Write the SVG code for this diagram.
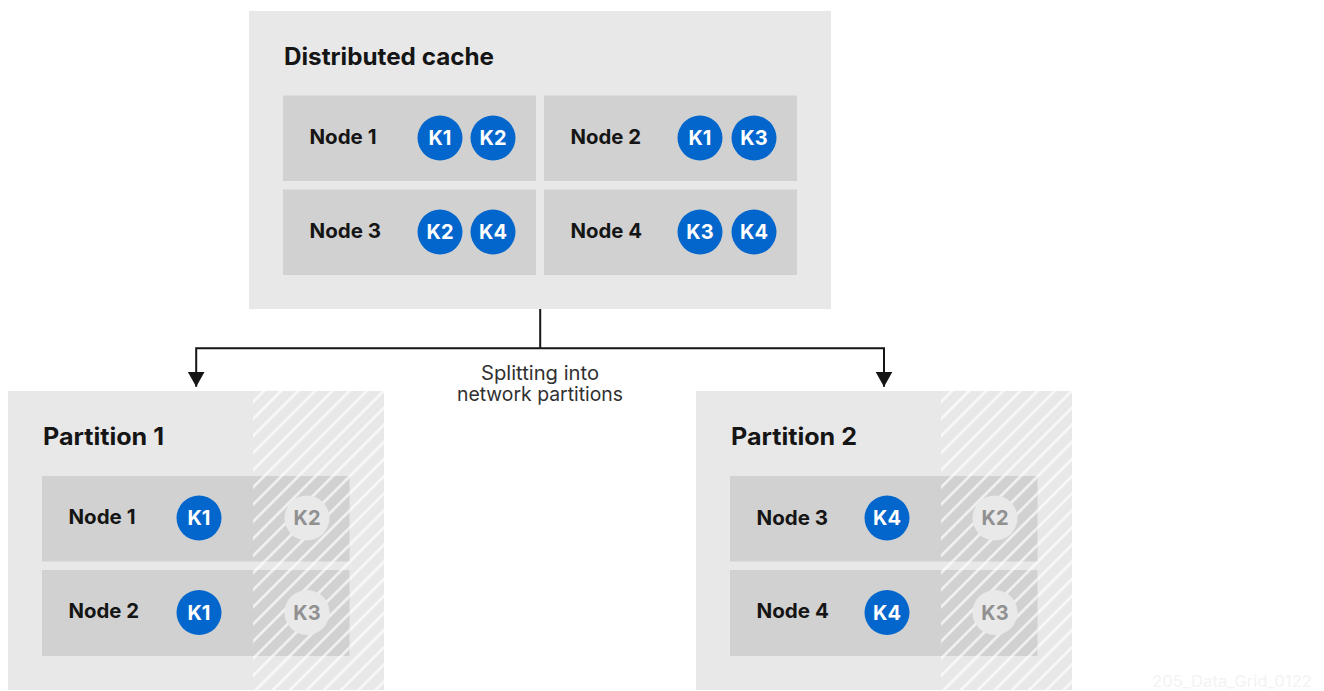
<svg xmlns="http://www.w3.org/2000/svg" width="1324" height="691" viewBox="0 0 1324 691">
<style>
.panel{fill:#e8e8e8}
.cell{fill:#d1d1d1}
.k{fill:#0266cc}
.g{fill:#e9e9e9}
text{font-family:"Inter","Liberation Sans",sans-serif}
.h{font-size:24px;font-weight:700;fill:#151515}
.n{font-size:20px;font-weight:700;fill:#151515}
.kt{font-size:20px;font-weight:700;fill:#fff;text-anchor:middle}
.gt{font-size:20px;font-weight:700;fill:#919191;text-anchor:middle}
.lab{font-size:19.5px;fill:#303030;text-anchor:middle}
.wm{font-size:16px;fill:#f3f3f3}
.line{fill:none;stroke:#151515;stroke-width:2}
.hatch1{fill:url(#hatch1)}
.hatch2{fill:url(#hatch2)}
</style>
<defs>
<pattern id="hatch1" patternUnits="userSpaceOnUse" width="12.1" height="12.1" patternTransform="translate(253 400) rotate(-45)">
<rect x="0" y="0" width="12.1" height="2.6" fill="#fff" fill-opacity=".7"/>
</pattern>
<pattern id="hatch2" patternUnits="userSpaceOnUse" width="12.1" height="12.1" patternTransform="translate(941 400) rotate(-45)">
<rect x="0" y="0" width="12.1" height="2.6" fill="#fff" fill-opacity=".7"/>
</pattern>
<marker id="arrow" markerUnits="userSpaceOnUse" markerWidth="16" markerHeight="18" refX="15" refY="8.500" orient="auto">
<path d="M0 0L15 8.500L0 17Z" fill="#151515"/>
</marker>
</defs>
<g id="distributed-cache">
<rect class="panel" x="249" y="11" width="582" height="298"/>
<text class="h" x="284" y="65" textLength="210" lengthAdjust="spacingAndGlyphs">Distributed cache</text>
</g>
<g id="dc-node-1"><rect class="cell" x="283" y="95.500" width="253" height="85.500"/><text class="n" x="309.500" y="144" textLength="67" lengthAdjust="spacingAndGlyphs">Node 1</text><circle class="k" cx="440" cy="138" r="22.500"/><text class="kt" x="440" y="145">K1</text><circle class="k" cx="493" cy="138" r="22.500"/><text class="kt" x="493" y="145">K2</text></g>
<g id="dc-node-2"><rect class="cell" x="544" y="95.500" width="253" height="85.500"/><text class="n" x="570.500" y="144" textLength="70.500" lengthAdjust="spacingAndGlyphs">Node 2</text><circle class="k" cx="700" cy="138" r="22.500"/><text class="kt" x="700" y="145">K1</text><circle class="k" cx="754" cy="138" r="22.500"/><text class="kt" x="754" y="145">K3</text></g>
<g id="dc-node-3"><rect class="cell" x="283" y="189.500" width="253" height="85.500"/><text class="n" x="309.500" y="238" textLength="71.500" lengthAdjust="spacingAndGlyphs">Node 3</text><circle class="k" cx="440" cy="232" r="22.500"/><text class="kt" x="440" y="239">K2</text><circle class="k" cx="493" cy="232" r="22.500"/><text class="kt" x="493" y="239">K4</text></g>
<g id="dc-node-4"><rect class="cell" x="544" y="189.500" width="253" height="85.500"/><text class="n" x="570.500" y="238" textLength="71.500" lengthAdjust="spacingAndGlyphs">Node 4</text><circle class="k" cx="700" cy="232" r="22.500"/><text class="kt" x="700" y="239">K3</text><circle class="k" cx="754" cy="232" r="22.500"/><text class="kt" x="754" y="239">K4</text></g>
<g id="connectors">
<path class="line" d="M540.200 309V348.300"/>
<path class="line" d="M540.200 348.300H196.200V386.700" marker-end="url(#arrow)"/>
<path class="line" d="M540.200 348.300H884V386.700" marker-end="url(#arrow)"/>
</g>
<g id="split-label"><text class="lab" x="540" y="380" textLength="118" lengthAdjust="spacingAndGlyphs">Splitting into</text><text class="lab" x="540" y="401" textLength="166" lengthAdjust="spacingAndGlyphs">network partitions</text></g>
<g id="partition-1">
<rect class="panel" x="8" y="391" width="376" height="299"/>
<rect class="hatch1" x="253" y="391" width="131" height="299"/>
<text class="h" x="43" y="445" textLength="121" lengthAdjust="spacingAndGlyphs">Partition 1</text>
</g>
<g id="p1-node-1"><rect class="cell" x="42" y="476" width="307.500" height="85.500"/><rect class="hatch1" x="253" y="476" width="96.500" height="85.500"/><text class="n" x="68.500" y="524" textLength="67" lengthAdjust="spacingAndGlyphs">Node 1</text><circle class="k" cx="199" cy="518" r="22.500"/><text class="kt" x="199" y="525">K1</text><circle class="g" cx="307" cy="518" r="22.500"/><text class="gt" x="307" y="525">K2</text></g>
<g id="p1-node-2"><rect class="cell" x="42" y="570" width="307.500" height="86"/><rect class="hatch1" x="253" y="570" width="96.500" height="86"/><text class="n" x="68.500" y="618" textLength="70.500" lengthAdjust="spacingAndGlyphs">Node 2</text><circle class="k" cx="199" cy="612.500" r="22.500"/><text class="kt" x="199" y="619.500">K1</text><circle class="g" cx="307" cy="612.500" r="22.500"/><text class="gt" x="307" y="619.500">K3</text></g>
<g id="partition-2">
<rect class="panel" x="696" y="391" width="376" height="299"/>
<rect class="hatch2" x="941" y="391" width="131" height="299"/>
<text class="h" x="731" y="445" textLength="126" lengthAdjust="spacingAndGlyphs">Partition 2</text>
</g>
<g id="p2-node-3"><rect class="cell" x="730" y="476" width="307.500" height="85.500"/><rect class="hatch2" x="941" y="476" width="96.500" height="85.500"/><text class="n" x="756.500" y="525" textLength="71.500" lengthAdjust="spacingAndGlyphs">Node 3</text><circle class="k" cx="887" cy="518" r="22.500"/><text class="kt" x="887" y="525">K4</text><circle class="g" cx="995" cy="518" r="22.500"/><text class="gt" x="995" y="525">K2</text></g>
<g id="p2-node-4"><rect class="cell" x="730" y="570" width="307.500" height="86"/><rect class="hatch2" x="941" y="570" width="96.500" height="86"/><text class="n" x="756.500" y="618" textLength="72.500" lengthAdjust="spacingAndGlyphs">Node 4</text><circle class="k" cx="887" cy="612.500" r="22.500"/><text class="kt" x="887" y="619.500">K4</text><circle class="g" cx="995" cy="612.500" r="22.500"/><text class="gt" x="995" y="619.500">K3</text></g>
<text class="wm" x="1152" y="687" textLength="160" lengthAdjust="spacingAndGlyphs">205_Data_Grid_0122</text>
</svg>
